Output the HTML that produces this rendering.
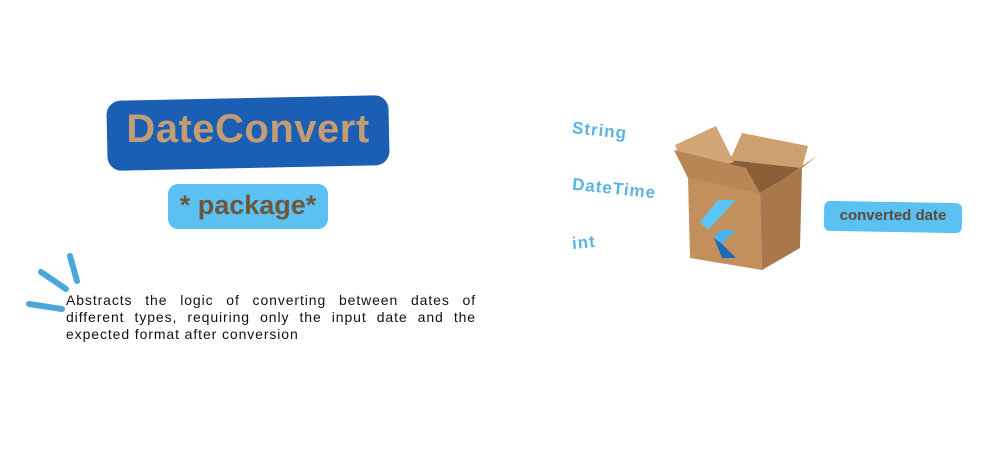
<!DOCTYPE html>
<html><head><meta charset="utf-8"><style>
body{margin:0;width:1000px;height:450px;background:#fff;position:relative;overflow:hidden;font-family:"Liberation Sans",sans-serif}
.t{position:absolute;font-weight:bold;color:#5ab4e0;font-size:17px;letter-spacing:1px}
</style></head><body>
<div style="position:absolute;left:107px;top:98px;width:282px;height:70px;background:#1a5fb4;border-radius:14px;transform:rotate(-1.2deg)"></div>
<div style="position:absolute;left:107px;top:107px;width:282px;text-align:center;font-weight:bold;font-size:40px;color:#c49c74;letter-spacing:0.5px">DateConvert</div>
<div style="position:absolute;left:168px;top:184px;width:160px;height:45px;background:#5bc1f1;border-radius:10px"></div>
<div style="position:absolute;left:168px;top:190px;width:160px;text-align:center;font-weight:bold;font-size:27px;color:#6f563d">* package*</div>
<svg style="position:absolute;left:0;top:0" width="1000" height="450">
<g stroke="#4aa6dc" stroke-width="6" stroke-linecap="round">
<line x1="70" y1="256" x2="77" y2="281"/>
<line x1="41" y1="272" x2="66" y2="289"/>
<line x1="29" y1="304" x2="62" y2="309"/>
</g>
<polygon points="688,178 760,193 762,270 690,258" fill="#c38f5d"/>
<polygon points="760,193 802,168 800,248 762,270" fill="#a8774a"/>
<polygon points="688,178 730,160 802,168 760,193" fill="#8a5f37"/>
<polygon points="675,145 716,126 734,162 688,178" fill="#d3a677"/>
<polygon points="730,160 742,133 808,146 802,168" fill="#cda070"/>
<polygon points="688,178 674,150 746,168 760,193" fill="#b88554"/>
<polygon points="760,193 802,168 818,155 775,185" fill="#b5824f"/>
<polygon points="718,200 736,200 708,230 700,222" fill="#5bc6f5"/>
<polygon points="720,230 736,230 722,244 714,238" fill="#4ab3ec"/>
<polygon points="714,238 722,244 736,258 722,258" fill="#1d6bb8"/>
</svg>
<div class="t" style="left:572px;top:121px;transform:rotate(6deg)">String</div>
<div class="t" style="left:572px;top:179px;transform:rotate(6deg)">DateTime</div>
<div class="t" style="left:572px;top:233px;transform:rotate(-5deg)">int</div>
<div style="position:absolute;left:824px;top:202px;width:138px;height:30px;background:#5bc1f1;border-radius:6px;transform:rotate(1deg)"></div>
<div style="position:absolute;left:824px;top:207px;width:138px;text-align:center;font-weight:bold;font-size:15px;color:#5a4a3c">converted date</div>
<div style="position:absolute;left:66px;top:292px;width:410px;font-size:14px;line-height:17px;text-align:justify;text-align-last:left;color:#111;letter-spacing:0.9px">Abstracts the logic of converting between dates of different types, requiring only the input date and the expected format after conversion</div>
</body></html>
